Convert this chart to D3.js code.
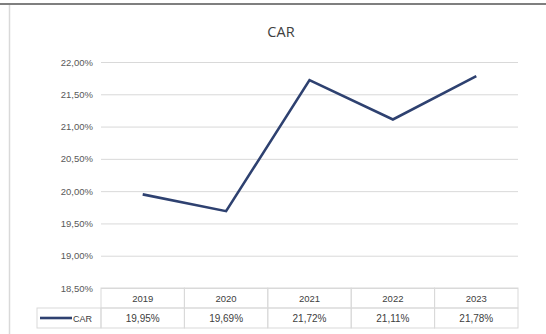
<!DOCTYPE html>
<html>
<head>
<meta charset="utf-8">
<script src="https://cdn.jsdelivr.net/npm/d3@7"></script>
<style>
  html, body { margin: 0; padding: 0; background: #ffffff; }
  svg { display: block; }
</style>
</head>
<body>
<script>
// ---- data ----
const title = "CAR";
const seriesName = "CAR";
const years = ["2019", "2020", "2021", "2022", "2023"];
const carValues = [19.95, 19.69, 21.72, 21.11, 21.78];
const carLabels = ["19,95%", "19,69%", "21,72%", "21,11%", "21,78%"];
const yTicks = [18.5, 19.0, 19.5, 20.0, 20.5, 21.0, 21.5, 22.0];

const W = 546, H = 334;
const svg = d3.select("body").append("svg").attr("width", W).attr("height", H);

const fmt = v => d3.format(".2f")(v).replace(".", ",") + "%";

const plot = { left: 101, right: 518, top: 62, bottom: 288 };
const rowH = 20;
const legendLeft = 37;
const font = "Liberation Sans, Arial, sans-serif";

const x = d3.scaleBand().domain(years).range([plot.left, plot.right]).padding(0);
const y = d3.scaleLinear().domain([18.5, 22]).range([plot.bottom, plot.top]);

// frame
svg.append("line").attr("x1", 0).attr("x2", W).attr("y1", 4).attr("y2", 4)
  .attr("stroke", "#7f7f7f").attr("stroke-width", 2);
svg.append("line").attr("x1", 9.5).attr("x2", 9.5).attr("y1", 5).attr("y2", H)
  .attr("stroke", "#d9d9d9").attr("stroke-width", 1.5);

// title
svg.append("text").attr("x", 281).attr("y", 37).attr("text-anchor", "middle")
  .attr("font-family", "Open Sans, Liberation Sans, sans-serif").attr("font-size", 14.5)
  .attr("fill", "#404040").text(title);

// gridlines + y labels via axis
const yAxis = d3.axisLeft(y).tickValues(yTicks).tickFormat(fmt)
  .tickSize(-(plot.right - plot.left)).tickPadding(8);
const gy = svg.append("g").attr("transform", `translate(${plot.left},0)`).call(yAxis);
gy.select(".domain").remove();
gy.selectAll(".tick line").attr("stroke", "#d9d9d9").attr("stroke-width", 1);
gy.selectAll(".tick text").attr("font-family", font)
  .attr("font-size", 9.5).attr("fill", "#595959");

// line
const line = d3.line().x((d, i) => x(years[i]) + x.bandwidth() / 2).y(d => y(d));
svg.append("path").datum(carValues).attr("d", line).attr("fill", "none")
  .attr("stroke", "#2e4170").attr("stroke-width", 2.6).attr("stroke-linejoin", "miter");

// data table
const tb = svg.append("g");
const tStroke = "#d9d9d9";
years.forEach((yr, i) => {
  tb.append("rect").attr("x", x(yr)).attr("y", plot.bottom).attr("width", x.bandwidth()).attr("height", rowH)
    .attr("fill", "none").attr("stroke", tStroke);
  tb.append("rect").attr("x", x(yr)).attr("y", plot.bottom + rowH).attr("width", x.bandwidth()).attr("height", rowH)
    .attr("fill", "none").attr("stroke", tStroke);
  tb.append("text").attr("x", x(yr) + x.bandwidth() / 2).attr("y", plot.bottom + 14)
    .attr("text-anchor", "middle").attr("font-family", font)
    .attr("font-size", 9.5).attr("fill", "#404040").text(yr);
  tb.append("text").attr("x", x(yr) + x.bandwidth() / 2).attr("y", plot.bottom + rowH + 14)
    .attr("text-anchor", "middle").attr("font-family", font)
    .attr("font-size", 10).attr("fill", "#404040").text(carLabels[i]);
});
// legend cell
tb.append("rect").attr("x", legendLeft).attr("y", plot.bottom + rowH)
  .attr("width", plot.left - legendLeft).attr("height", rowH)
  .attr("fill", "none").attr("stroke", tStroke);
tb.append("line").attr("x1", legendLeft + 3).attr("x2", legendLeft + 35)
  .attr("y1", plot.bottom + rowH + 10).attr("y2", plot.bottom + rowH + 10)
  .attr("stroke", "#2e4170").attr("stroke-width", 2.6);
tb.append("text").attr("x", legendLeft + 36).attr("y", plot.bottom + rowH + 13.5)
  .attr("font-family", font).attr("font-size", 9)
  .attr("fill", "#404040").text(seriesName);
</script>
</body>
</html>
